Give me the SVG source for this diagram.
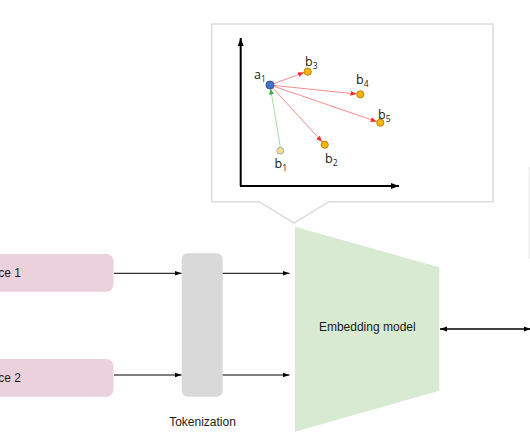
<svg xmlns="http://www.w3.org/2000/svg" width="530" height="442" viewBox="0 0 530 442">
<style>
.lbl{font-family:"Liberation Sans",Arial,sans-serif;font-size:12px;fill:#1a1a1a}
.math{font-family:"Open Sans","Liberation Sans",sans-serif;font-size:12.5px;fill:#1a1a1a}
.sub{font-size:8.5px}
.pt{stroke-width:1}
.red{stroke:#f58c8c;stroke-width:1;fill:none;marker-end:url(#mr)}
.blk{stroke:#000;stroke-width:1;fill:none;marker-end:url(#mb)}
</style>
<defs>
<marker id="mb" markerUnits="userSpaceOnUse" markerWidth="7" markerHeight="6" refX="7" refY="3" orient="auto"><path d="M0,0.5 L7,3 L0,5.5 z" fill="#000"/></marker>
<marker id="mbs" markerUnits="userSpaceOnUse" markerWidth="7" markerHeight="6" refX="7" refY="3" orient="auto-start-reverse"><path d="M0,0.5 L7,3 L0,5.5 z" fill="#000"/></marker>
<marker id="max" markerUnits="userSpaceOnUse" markerWidth="8" markerHeight="7" refX="8" refY="3.5" orient="auto"><path d="M0,0.5 L8,3.5 L0,6.5 z" fill="#000"/></marker>
<marker id="mr" markerUnits="userSpaceOnUse" markerWidth="6" markerHeight="5" refX="6" refY="2.5" orient="auto"><path d="M0,0 L6,2.5 L0,5 z" fill="#ff2a2a"/></marker>
<marker id="mg" markerUnits="userSpaceOnUse" markerWidth="6" markerHeight="5" refX="6" refY="2.5" orient="auto"><path d="M0,0 L6,2.5 L0,5 z" fill="#3cb043"/></marker>
</defs>

<g id="callout">
<path d="M211.7,24 H493 V201.7 H329 L294,223 L259,201.7 H211.7 Z" fill="#fff" stroke="#dcdcdc" stroke-width="1.5"/>
<line x1="240.7" y1="186" x2="240.7" y2="38" stroke="#000" stroke-width="2" marker-end="url(#max)"/>
<line x1="240" y1="186" x2="399" y2="186" stroke="#000" stroke-width="2" marker-end="url(#max)"/>
<line class="red" x1="270" y1="85" x2="304" y2="72.6"/>
<line class="red" x1="270" y1="85" x2="356.5" y2="94"/>
<line class="red" x1="270" y1="85" x2="376.6" y2="121.5"/>
<line class="red" x1="270" y1="85" x2="322" y2="141.7"/>
<line x1="280.3" y1="147" x2="270.6" y2="88.6" stroke="#a6dca6" stroke-width="1" marker-end="url(#mg)"/>
<circle cx="307.7" cy="71.7" r="3.6" fill="#f6b40f" stroke="#b8860b" class="pt"/>
<circle cx="360.3" cy="94.3" r="3.6" fill="#f6b40f" stroke="#b8860b" class="pt"/>
<circle cx="380.3" cy="122.7" r="3.6" fill="#f6b40f" stroke="#b8860b" class="pt"/>
<circle cx="324.7" cy="144.7" r="3.6" fill="#f6b40f" stroke="#b8860b" class="pt"/>
<circle cx="280.3" cy="150.7" r="3.4" fill="#ffdf7a" stroke="#8fa9d8" class="pt"/>
<circle cx="270" cy="85" r="4" fill="#4472c4" stroke="#2f5597" class="pt"/>
<text class="math" x="254" y="79">a<tspan class="sub" dy="2.5">1</tspan></text>
<text class="math" x="305" y="66">b<tspan class="sub" dy="2.5">3</tspan></text>
<text class="math" x="356" y="84">b<tspan class="sub" dy="2.5">4</tspan></text>
<text class="math" x="378" y="119">b<tspan class="sub" dy="2.5">5</tspan></text>
<text class="math" x="325" y="163">b<tspan class="sub" dy="2.5">2</tspan></text>
<text class="math" x="274.5" y="168">b<tspan class="sub" dy="2.5">1</tspan></text>
</g>

<g id="sentence1">
<rect x="-140" y="254" width="253.5" height="37.7" rx="7" fill="#ead1dc"/>
<text class="lbl" x="21" y="277.3" text-anchor="end">Sentence 1</text>
</g>
<g id="sentence2">
<rect x="-140" y="359" width="253.5" height="37.7" rx="7" fill="#ead1dc"/>
<text class="lbl" x="21" y="382.3" text-anchor="end">Sentence 2</text>
</g>
<g id="tokenization">
<rect x="181.7" y="253.3" width="41" height="143.4" rx="6" fill="#d9d9d9"/>
<text class="lbl" x="202.5" y="425.5" text-anchor="middle">Tokenization</text>
</g>
<g id="embedding">
<path d="M295,226.7 L439.3,267.3 V390.7 L295,431.7 Z" fill="#d9ead3"/>
<text class="lbl" x="367.3" y="331" text-anchor="middle">Embedding model</text>
</g>
<g id="rightbox">
<rect x="529.3" y="168" width="40" height="90" fill="#fff" stroke="#e6e6e6" stroke-width="1"/>
</g>

<g id="connectors">
<line class="blk" x1="114" y1="273.3" x2="181.5" y2="273.3"/>
<line class="blk" x1="114" y1="375" x2="181.5" y2="375"/>
<line class="blk" x1="222.7" y1="273.3" x2="289.5" y2="273.3"/>
<line class="blk" x1="222.7" y1="375" x2="289.5" y2="375"/>
<line x1="440" y1="329" x2="531" y2="329" stroke="#000" stroke-width="1.5" marker-start="url(#mbs)" marker-end="url(#mbs)"/>
</g>
</svg>
